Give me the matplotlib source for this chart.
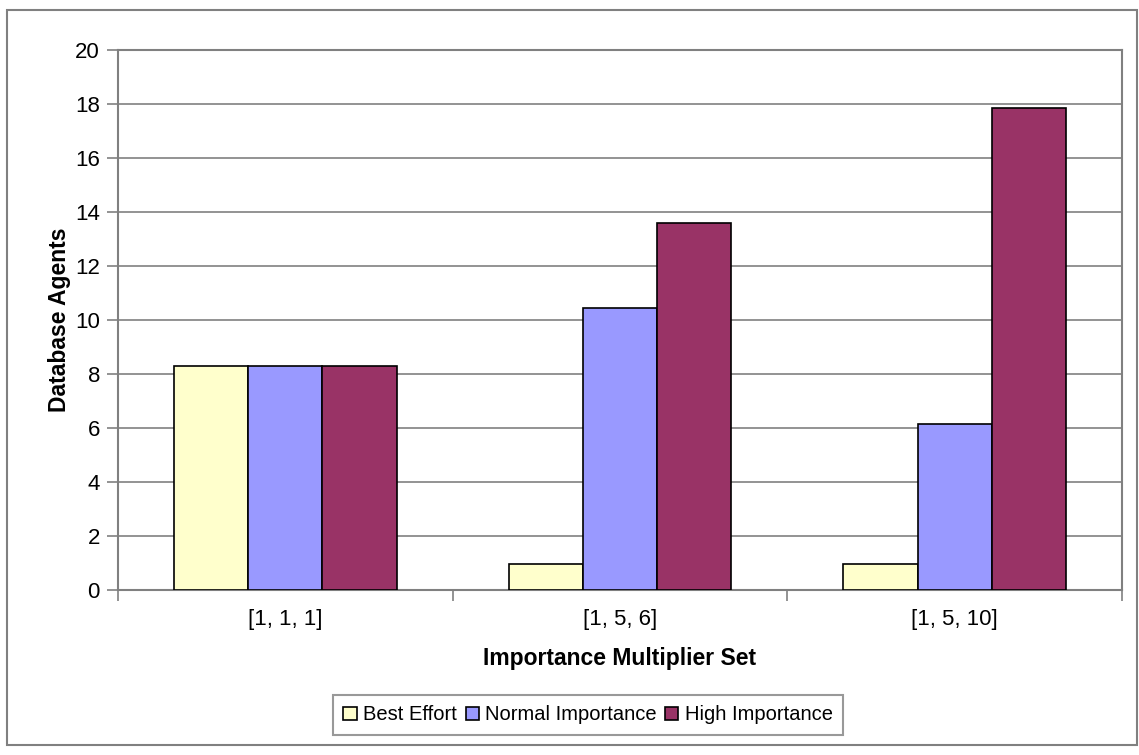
import numpy as np
import matplotlib
matplotlib.use('Agg')
import matplotlib.pyplot as plt
from matplotlib.patches import Rectangle

plt.rcParams['font.family'] = ['Liberation Sans', 'DejaVu Sans']

groups = ['[1, 1, 1]', '[1, 5, 6]', '[1, 5, 10]']
best_effort = [8.3, 0.95, 0.95]
normal_imp = [8.3, 10.45, 6.15]
high_imp = [8.3, 13.6, 17.85]

series = ['Best Effort', 'Normal Importance', 'High Importance']
colors = ['#FFFFCC', '#9999FF', '#993366']

fig = plt.figure(figsize=(11.39, 7.55), dpi=100)
ax = fig.add_axes([118/1139, 1 - 590/755, (1122-118)/1139, (590-50)/755])

# outer chart border
fig.patches.append(Rectangle((7/1139, 10/755), 1130/1139, 735/755, transform=fig.transFigure,
                             fill=False, edgecolor='#808080', lw=1.5))

x = np.arange(len(groups))
width = 0.222
for k, (vals, c, lab) in enumerate(zip([best_effort, normal_imp, high_imp], colors, series)):
    ax.bar(x + (k - 1) * width, vals, width, color=c, edgecolor='black', lw=1.2, label=lab, zorder=3)

ax.set_xlim(-0.5, 2.5)
ax.set_ylim(0, 20)
ax.set_yticks(np.arange(0, 21, 2))
ax.yaxis.grid(True, color='#808080', lw=1.2, zorder=0)
ax.set_xticks(x)
ax.set_xticklabels(groups, fontsize=16)
ax.set_xticks([-0.5, 0.5, 1.5, 2.5], minor=True)
ax.tick_params(axis='x', which='major', length=0, pad=14)
ax.tick_params(axis='x', which='minor', length=8, color='#808080', width=1.2, direction='out')
ax.tick_params(axis='y', labelsize=16, length=8, color='#808080', width=1.2, pad=5)
for s in ax.spines.values():
    s.set_color('#808080')
    s.set_linewidth(1.5)

ax.set_ylabel('Database Agents', fontsize=16.5, fontweight='bold')
ax.yaxis.set_label_coords(-47/1004, 0.5)
ax.set_xlabel('Importance Multiplier Set', fontsize=16.5, fontweight='bold', labelpad=12)

handles, labels = ax.get_legend_handles_labels()
lg = fig.legend(handles, labels, loc='center',
                bbox_to_anchor=(588/1139, 1 - 715/755), ncol=3, fontsize=14.5,
                frameon=True, fancybox=False, edgecolor='#808080', handlelength=0.65,
                handleheight=0.65, handletextpad=0.3, columnspacing=0.45, borderpad=0.5)
lg.get_frame().set_linewidth(1.5)

fig.savefig('out.png', dpi=100)
